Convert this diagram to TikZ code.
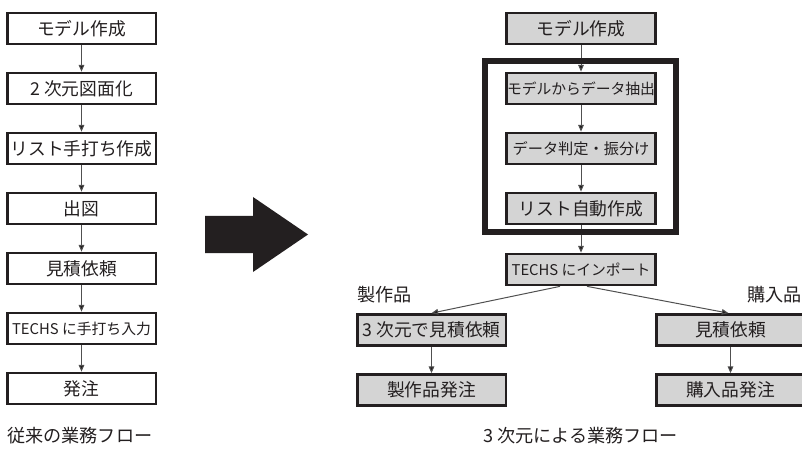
\documentclass[tikz,border=0pt]{standalone}
\usepackage{fontspec}
\setmainfont{Noto Sans CJK JP}
\usetikzlibrary{arrows.meta}
\definecolor{ink}{RGB}{35,31,32}
\definecolor{boxgray}{RGB}{212,212,212}
\definecolor{linegray}{RGB}{80,80,80}
\begin{document}
\begin{tikzpicture}[x=0.75pt,y=-0.75pt,
  flowbox/.style={draw=ink, line width=1.9pt, minimum width=111.4pt, minimum height=23.4pt,
    inner sep=0pt, text=ink, font=\fontsize{13.3pt}{15pt}\selectfont},
  whitebox/.style={flowbox, fill=white},
  graybox/.style={flowbox, fill=boxgray},
  smalltext/.style={font=\fontsize{11.1pt}{12pt}\selectfont},
  midtext/.style={font=\fontsize{11.4pt}{12pt}\selectfont},
  flowarrow/.style={draw=linegray, line width=0.75pt, -{Triangle[length=5pt,width=4.2pt,fill=ink]}},
  plaintext/.style={text=ink, inner sep=0pt, font=\fontsize{13.6pt}{15pt}\selectfont}]
\useasboundingbox (0,0) rectangle (802,452);

% left column: conventional flow
\node[whitebox] (a1) at (81.5,28.5) {モデル作成};
\node[whitebox] (a2) at (81.5,88.5) {2 次元図面化};
\node[whitebox] (a3) at (81.5,148.5) {リスト手打ち作成};
\node[whitebox] (a4) at (81.5,208.5) {出図};
\node[whitebox] (a5) at (81.5,268.5) {見積依頼};
\node[whitebox,smalltext] (a6) at (81.5,328.5) {TECHS に手打ち入力};
\node[whitebox] (a7) at (81.5,388.5) {発注};
\foreach \p/\q in {a1/a2,a2/a3,a3/a4,a4/a5,a5/a6,a6/a7}
  \draw[flowarrow] (\p) -- (\q);

% big arrow
\fill[ink] (205,216) -- (253,216) -- (253,197) -- (308,234.5) -- (253,272) -- (253,253) -- (205,253) -- cycle;

% right column: 3D flow
\node[graybox] (m1) at (581,28.5) {モデル作成};
\node[graybox,smalltext] (m2) at (581,88.5) {モデルからデータ抽出};
\node[graybox,midtext] (m3) at (581,148.5) {データ判定・振分け};
\node[graybox] (m4) at (581,208.5) {リスト自動作成};
\node[graybox,smalltext] (m5) at (581,269.5) {TECHS にインポート};
\node[graybox] (l1) at (431.5,330) {3 次元で見積依頼};
\node[graybox] (l2) at (431.5,390) {製作品発注};
\node[graybox] (r1) at (730.5,330) {見積依頼};
\node[graybox] (r2) at (730.5,390) {購入品発注};

\foreach \p/\q in {m1/m2,m2/m3,m3/m4,m4/m5,l1/l2,r1/r2}
  \draw[flowarrow] (\p) -- (\q);
\draw[flowarrow] ([xshift=-15.75pt]m5.south) -- (l1.north);
\draw[flowarrow] ([xshift=4.5pt]m5.south) -- ([xshift=-1.5pt]r1.north);

% thick frame
\draw[ink, line width=4.5pt] (485,61.5) rectangle (676,232);

% labels
\node[plaintext] (seisaku) at (384.5,295) {製作品};
\node[plaintext, anchor=east] (kounyu) at (802,295) {購入品};
\node[plaintext, anchor=west] (cap1) at (7,436) {従来の業務フロー};
\node[plaintext] (cap2) at (580.5,436) {3 次元による業務フロー};
\end{tikzpicture}
\end{document}
